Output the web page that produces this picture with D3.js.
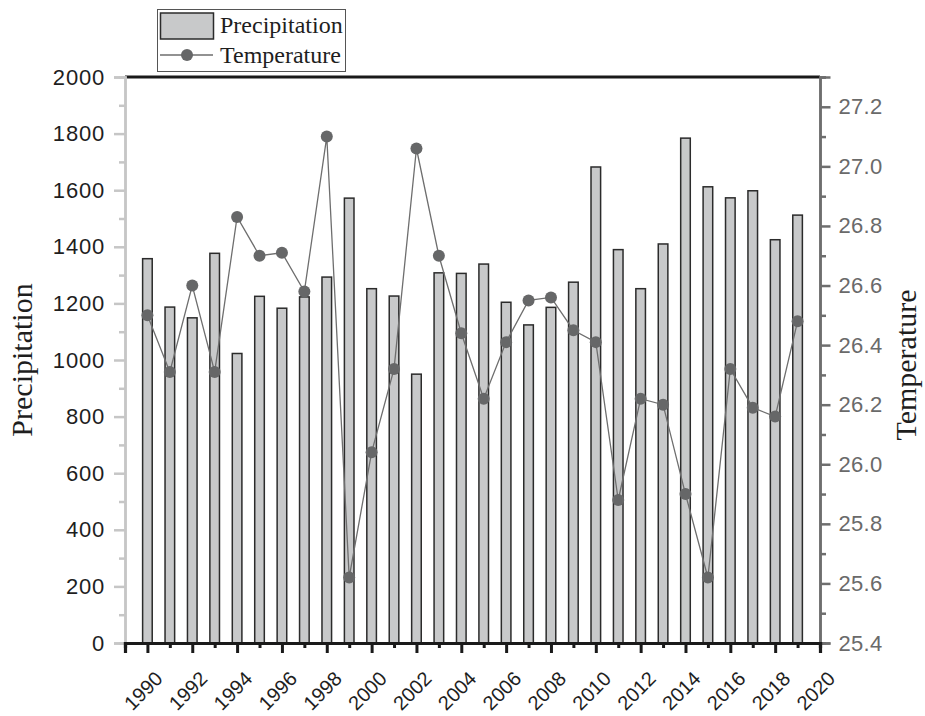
<!DOCTYPE html>
<html>
<head>
<meta charset="utf-8">
<script src="https://cdn.jsdelivr.net/npm/d3@7"></script>
<style>
  html, body { margin: 0; padding: 0; background: #ffffff; }
  #viz_container { width: 925px; height: 716px; }
</style>
</head>
<body>
<div id="viz_container"></div>
<script>
// data
const years = [1990, 1991, 1992, 1993, 1994, 1995, 1996, 1997, 1998, 1999,
  2000, 2001, 2002, 2003, 2004, 2005, 2006, 2007, 2008, 2009,
  2010, 2011, 2012, 2013, 2014, 2015, 2016, 2017, 2018, 2019];
const precipitation = [1358, 1187, 1149, 1377, 1023, 1225, 1183, 1223, 1293, 1572,
  1252, 1226, 950, 1308, 1306, 1339, 1204, 1124, 1186, 1275,
  1682, 1390, 1252, 1410, 1784, 1612, 1573, 1598, 1425, 1512];
const temperature = [26.50, 26.31, 26.60, 26.31, 26.83, 26.70, 26.71, 26.58, 27.10, 25.62,
  26.04, 26.32, 27.06, 26.70, 26.44, 26.22, 26.41, 26.55, 26.56, 26.45,
  26.41, 25.88, 26.22, 26.20, 25.90, 25.62, 26.32, 26.19, 26.16, 26.48];
const leftTicks = [0, 200, 400, 600, 800, 1000, 1200, 1400, 1600, 1800, 2000];
const rightTicks = [25.4, 25.6, 25.8, 26.0, 26.2, 26.4, 26.6, 26.8, 27.0, 27.2];
const yearTicks = [1990, 1992, 1994, 1996, 1998, 2000, 2002, 2004, 2006, 2008,
  2010, 2012, 2014, 2016, 2018, 2020];

const width = 925, height = 716;
const plotLeft = 125, plotRight = 820, plotTop = 77, plotBottom = 643;
const sans = "Arial, Helvetica, sans-serif";
const serif = "'Liberation Serif', 'Times New Roman', serif";

const svg = d3.select("#viz_container")
  .append("svg")
  .attr("width", width)
  .attr("height", height)
  .attr("viewBox", `0 0 ${width} ${height}`);

const x = d3.scaleLinear().domain([1989, 2020]).range([plotLeft, plotRight]);
const yL = d3.scaleLinear().domain([0, 2000]).range([plotBottom, plotTop]);
const yR = d3.scaleLinear().domain([25.4, 27.3]).range([plotBottom, plotTop]);

const rows = years.map((y, i) => ({ year: y, p: precipitation[i], t: temperature[i] }));

// bars
svg.append("g")
  .selectAll("rect")
  .data(rows)
  .enter()
  .append("rect")
  .attr("x", d => x(d.year) - 4.8)
  .attr("width", 9.6)
  .attr("y", d => yL(d.p))
  .attr("height", d => yL(0) - yL(d.p))
  .attr("fill", "#c8c9ca")
  .attr("stroke", "#2b2b2b")
  .attr("stroke-width", 1.5);

// top frame line
svg.append("line")
  .attr("x1", plotLeft).attr("x2", plotRight)
  .attr("y1", plotTop).attr("y2", plotTop)
  .attr("stroke", "#1a1a1a")
  .attr("stroke-width", 3);

// left axis (light gray)
const leftMinor = svg.append("g")
  .attr("transform", `translate(${plotLeft},0)`)
  .call(d3.axisLeft(yL).tickValues(d3.range(100, 2000, 200)).tickSize(6).tickFormat(""));
const leftAxis = svg.append("g")
  .attr("transform", `translate(${plotLeft},0)`)
  .call(d3.axisLeft(yL).tickValues(leftTicks).tickSize(11).tickPadding(9).tickFormat(d3.format("d")));
[leftMinor, leftAxis].forEach(g => {
  g.select(".domain").attr("stroke", "#c6c6c6").attr("stroke-width", 2.5);
  g.selectAll(".tick line").attr("stroke", "#c6c6c6").attr("stroke-width", 2.5);
});
leftAxis.selectAll(".tick text")
  .attr("fill", "#1e1e1e")
  .style("font-family", sans)
  .style("font-size", "22px")
  .style("letter-spacing", "0.8px");

// right axis (mid gray)
const rightMinor = svg.append("g")
  .attr("transform", `translate(${plotRight},0)`)
  .call(d3.axisRight(yR).tickValues(d3.range(25.5, 27.35, 0.2)).tickSize(6).tickFormat(""));
const rightAxis = svg.append("g")
  .attr("transform", `translate(${plotRight},0)`)
  .call(d3.axisRight(yR).tickValues(rightTicks).tickSize(10.5).tickPadding(8).tickFormat(d3.format(".1f")));
[rightMinor, rightAxis].forEach(g => {
  g.select(".domain").attr("stroke", "#6e6e6e").attr("stroke-width", 2.5);
  g.selectAll(".tick line").attr("stroke", "#6e6e6e").attr("stroke-width", 2.5);
});
rightAxis.selectAll(".tick text")
  .attr("fill", "#6a6a6a")
  .style("font-family", sans)
  .style("font-size", "22px")
  .style("letter-spacing", "0.3px");

// bottom axis (black)
const bottomMinor = svg.append("g")
  .attr("transform", `translate(0,${plotBottom})`)
  .call(d3.axisBottom(x).tickValues(d3.range(1989, 2020, 2)).tickSize(5).tickFormat(""));
const bottomAxis = svg.append("g")
  .attr("transform", `translate(0,${plotBottom})`)
  .call(d3.axisBottom(x).tickValues(yearTicks).tickSize(10).tickFormat(d3.format("d")));
[bottomMinor, bottomAxis].forEach(g => {
  g.select(".domain").attr("stroke", "#1a1a1a").attr("stroke-width", 3.2);
  g.selectAll(".tick line").attr("stroke", "#1a1a1a").attr("stroke-width", 3);
});
bottomAxis.selectAll(".tick text")
  .attr("fill", "#1e1e1e")
  .style("font-family", sans)
  .style("font-size", "20px")
  .attr("text-anchor", "end")
  .attr("y", 0)
  .attr("dy", "0.35em")
  .attr("transform", "translate(11,32) rotate(-45)");

// temperature line + markers
const lineGen = d3.line().x(d => x(d.year)).y(d => yR(d.t));
svg.append("path")
  .datum(rows)
  .attr("fill", "none")
  .attr("stroke", "#6e6e6e")
  .attr("stroke-width", 1.3)
  .attr("d", lineGen);
svg.append("g")
  .selectAll("circle")
  .data(rows)
  .enter()
  .append("circle")
  .attr("cx", d => x(d.year))
  .attr("cy", d => yR(d.t))
  .attr("r", 6)
  .attr("fill", "#666768");

// axis titles
svg.append("text")
  .attr("transform", "translate(32,360) rotate(-90)")
  .attr("text-anchor", "middle")
  .style("font-family", serif)
  .style("font-size", "30px")
  .attr("fill", "#1e1e1e")
  .text("Precipitation");
svg.append("text")
  .attr("transform", "translate(916,365) rotate(-90)")
  .attr("text-anchor", "middle")
  .style("font-family", serif)
  .style("font-size", "30px")
  .attr("fill", "#1e1e1e")
  .text("Temperature");

// legend
const legend = svg.append("g");
legend.append("rect")
  .attr("x", 157.5).attr("y", 9.5)
  .attr("width", 188).attr("height", 62)
  .attr("fill", "#ffffff")
  .attr("stroke", "#555555")
  .attr("stroke-width", 1);
legend.append("rect")
  .attr("x", 160.5).attr("y", 13)
  .attr("width", 53).attr("height", 26)
  .attr("fill", "#c8c9ca")
  .attr("stroke", "#2b2b2b")
  .attr("stroke-width", 1.5);
legend.append("line")
  .attr("x1", 160).attr("x2", 213)
  .attr("y1", 55).attr("y2", 55)
  .attr("stroke", "#6e6e6e")
  .attr("stroke-width", 1.3);
legend.append("circle")
  .attr("cx", 187).attr("cy", 55).attr("r", 6)
  .attr("fill", "#666768");
legend.selectAll("text.lg")
  .data(["Precipitation", "Temperature"])
  .enter()
  .append("text")
  .attr("class", "lg")
  .attr("x", 220)
  .attr("y", (d, i) => 33 + i * 30)
  .style("font-family", serif)
  .style("font-size", "24px")
  .attr("fill", "#1e1e1e")
  .text(d => d);
</script>
</body>
</html>
